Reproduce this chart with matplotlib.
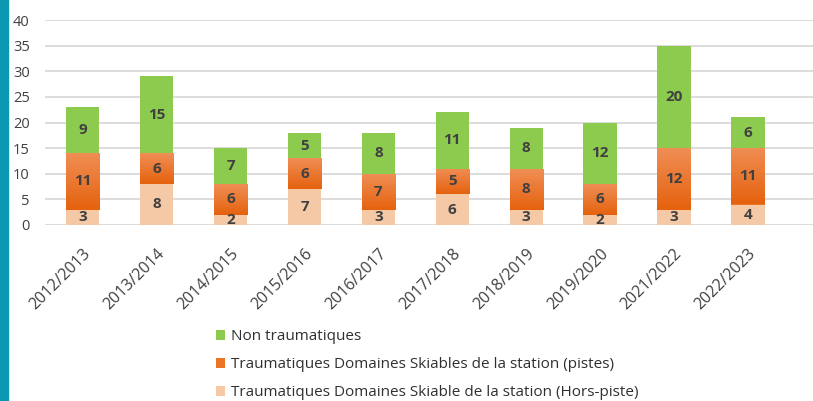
import matplotlib
matplotlib.use("Agg")
import matplotlib.pyplot as plt
import numpy as np
from matplotlib.patches import Rectangle
from matplotlib.colors import LinearSegmentedColormap

seasons = ["2012/2013", "2013/2014", "2014/2015", "2015/2016", "2016/2017",
           "2017/2018", "2018/2019", "2019/2020", "2021/2022", "2022/2023"]
hors_piste = [3, 8, 2, 7, 3, 6, 3, 2, 3, 4]
pistes = [11, 6, 6, 6, 7, 5, 8, 6, 12, 11]
non_traum = [9, 15, 7, 5, 8, 11, 8, 12, 20, 6]

lbl_non = "Non traumatiques"
lbl_pistes = "Traumatiques Domaines Skiables de la station (pistes)"
lbl_hors = "Traumatiques Domaines Skiable de la station (Hors-piste)"

c_green = "#8dcb4f"
c_orange = "#eb7527"
c_peach = "#f6c9a6"
txt = "#404040"

plt.rcParams['font.family'] = ['Open Sans', 'DejaVu Sans']

fig = plt.figure(figsize=(8.13, 4.01), dpi=100)
ax = fig.add_axes([45/813, 1-225/401, 1-45/813, (225-20)/401])

x = np.arange(len(seasons))
w = 0.45
b1 = ax.bar(x, hors_piste, w, color=c_peach, label=lbl_hors, zorder=3)
b2 = ax.bar(x, pistes, w, bottom=hors_piste, color=c_orange, label=lbl_pistes, zorder=3)
bot3 = np.array(hors_piste) + np.array(pistes)
b3 = ax.bar(x, non_traum, w, bottom=bot3, color=c_green, label=lbl_non, zorder=3)

# gradient on orange bars
cmap = LinearSegmentedColormap.from_list("og", ["#e5620e", "#f08e55"])
grad = np.linspace(0, 1, 100).reshape(-1, 1)
for r in b2:
    x0, y0 = r.get_x(), r.get_y()
    im = ax.imshow(grad, cmap=cmap, aspect='auto', origin='lower',
                   extent=(x0, x0 + r.get_width(), y0, y0 + r.get_height()), zorder=3.5)
    im.set_clip_path(r)

for bars, vals in ((b1, hors_piste), (b2, pistes), (b3, non_traum)):
    for r, v in zip(bars, vals):
        ax.text(r.get_x() + r.get_width()/2, r.get_y() + r.get_height()/2, str(v),
                ha='center', va='center', fontsize=11, fontweight='bold', color=txt, zorder=5)

ax.set_xlim(-0.51, 9.88)
ax.set_ylim(0, 40)
ax.set_yticks(range(0, 41, 5))
ax.set_aspect('auto')
ax.grid(axis='y', color='#d9d9d9', linewidth=1.3, zorder=0)
ax.set_axisbelow(True)
for s in ax.spines.values():
    s.set_visible(False)
ax.tick_params(axis='y', length=0, labelsize=10.5, colors='#404040', pad=11)
ax.tick_params(axis='x', length=0, colors='#404040', pad=15)
ax.set_xticks(x)
ax.set_xticklabels(seasons, rotation=45, ha='right', rotation_mode='anchor', fontsize=11.5)

handles = [b3, b2, b1]
labels = [lbl_non, lbl_pistes, lbl_hors]
leg = fig.legend(handles, labels, loc='upper left', bbox_to_anchor=(210/813, 1-323/401),
                 frameon=False, fontsize=11, handlelength=0.6, handleheight=0.6,
                 handletextpad=0.4, labelspacing=0.86, borderaxespad=0)
for t in leg.get_texts():
    t.set_color('#303030')

fig.patches.append(Rectangle((0, 0), 8/813, 1, transform=fig.transFigure,
                             color="#0b98b3", zorder=10))

fig.savefig("out.png", dpi=100)
